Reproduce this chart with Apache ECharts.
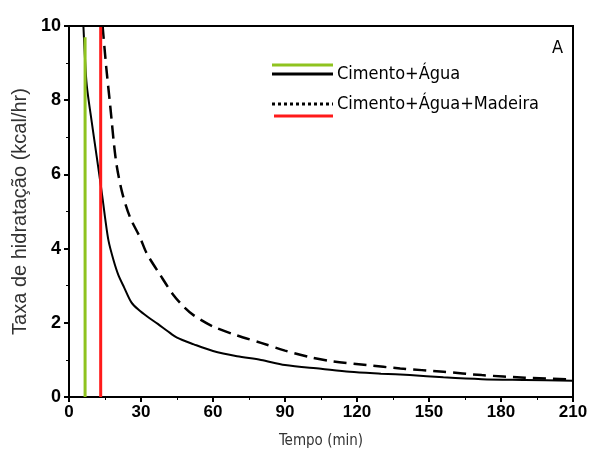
<!DOCTYPE html>
<html>
<head>
  <meta charset="utf-8">
  <title>Taxa de hidratação</title>
  <script src="https://cdn.jsdelivr.net/npm/echarts@6/dist/echarts.min.js"></script>
  <style>
    html, body { margin: 0; padding: 0; background: #fff; }
    #main { width: 591px; height: 460px; }
  </style>
</head>
<body>
  <div id="main"></div>
  <script type="text/javascript">
    // tempo (min) e taxa (kcal/hr)
    const cimentoTempo = [6.0, 6.6, 7.4, 9.5, 11.5, 12.6, 14, 15, 16.5, 18.5, 20.5, 23, 26, 29, 33, 37, 41, 45, 52, 60, 70, 80, 90, 105, 117, 130, 142, 156, 172, 190, 210]
    const cimentoTaxa = [10, 9.2, 8.4, 7.4, 6.5, 6.0, 5.35, 4.85, 4.2, 3.7, 3.3, 2.95, 2.55, 2.35, 2.15, 1.97, 1.78, 1.6, 1.42, 1.24, 1.1, 1.0, 0.86, 0.76, 0.68, 0.63, 0.59, 0.53, 0.48, 0.46, 0.44]
    const madeiraTempo = [14.0, 15.5, 17.1, 19.5, 22, 25.4, 29.6, 32.4, 37.9, 43.5, 48, 52, 60, 70, 80, 90, 100, 110, 124, 138, 156, 172, 190, 210]
    const madeiraTaxa = [10, 8.9, 7.9, 6.4, 5.55, 4.85, 4.3, 3.87, 3.3, 2.75, 2.42, 2.2, 1.9, 1.66, 1.46, 1.25, 1.08, 0.96, 0.86, 0.77, 0.68, 0.59, 0.52, 0.47]
    const linhaVerde = [[6.7, 0], [6.7, 9.7]]
    const linhaVermelha = [[13.2, 0], [13.2, 10]]
    const xTicks = [0, 30, 60, 90, 120, 150, 180, 210]

    let log = console.log.bind(console)

    let pares = (xs, ys) => xs.map((x, i) => [x, ys[i]])

    let legendGraphic = () => {
      let g = []
      let seg = (x1, y1, x2, y2, color, w, dash) => ({
        type: 'line',
        shape: { x1: x1, y1: y1, x2: x2, y2: y2 },
        style: { stroke: color, lineWidth: w, lineDash: dash || null },
        z: 10
      })
      // moldura: topo e lado direito
      g.push(seg(68, 26, 574, 26, '#000', 2))
      g.push(seg(573, 25, 573, 398, '#000', 2))
      // legenda
      g.push(seg(272, 65, 333, 65, '#8fc31f', 3))
      g.push(seg(272, 74, 333, 74, '#000', 3))
      g.push(seg(272, 104, 333, 104, '#000', 3, [3, 3]))
      g.push(seg(274, 116, 333, 116, '#ff1a1a', 3))
      let text = (x, y, t, size) => ({
        type: 'text',
        x: x, y: y,
        style: { text: t, fill: '#000', font: size + 'px "DejaVu Sans Condensed", "Liberation Sans Narrow", sans-serif', verticalAlign: 'middle' }
      })
      g.push(text(337, 74, 'Cimento+Água', 18))
      g.push(text(337, 104, 'Cimento+Água+Madeira', 18))
      g.push(text(552, 48, 'A', 18))
      return g
    }

    const OPTION = {
      animation: false,
      backgroundColor: '#fff',
      grid: { left: 69, right: 18, top: 26, bottom: 63, outerBoundsMode: 'none' },
      xAxis: {
        type: 'value',
        min: 0, max: 210, interval: 30,
        name: 'Tempo (min)',
        nameLocation: 'middle',
        nameGap: 37,
        nameTextStyle: { fontSize: 15, color: '#333', fontFamily: '"DejaVu Sans Condensed", sans-serif' },
        axisLine: { onZero: false, lineStyle: { color: '#000', width: 2 } },
        axisTick: { length: 5, lineStyle: { color: '#000', width: 2 } },
        minorTick: { show: true, splitNumber: 2, length: 3, lineStyle: { color: '#000' } },
        axisLabel: { color: '#000', fontSize: 17, fontWeight: 'bold', fontFamily: 'Liberation Sans, Arial, sans-serif', margin: 7 },
        splitLine: { show: false }
      },
      yAxis: {
        type: 'value',
        min: 0, max: 10, interval: 2,
        name: 'Taxa de hidratação (kcal/hr)',
        nameLocation: 'middle',
        nameGap: 38,
        nameTextStyle: { fontSize: 20, color: '#333', fontFamily: 'Liberation Sans, Arial, sans-serif' },
        axisLine: { onZero: false, lineStyle: { color: '#000', width: 2 } },
        axisTick: { length: 5, lineStyle: { color: '#000', width: 2 } },
        minorTick: { show: true, splitNumber: 2, length: 3, lineStyle: { color: '#000' } },
        axisLabel: { color: '#000', fontSize: 18, fontWeight: 'bold', fontFamily: 'Liberation Sans, Arial, sans-serif', margin: 8 },
        splitLine: { show: false }
      },
      series: [{
        name: 'Cimento+Água',
        type: 'line',
        data: pares(cimentoTempo, cimentoTaxa),
        showSymbol: false,
        smooth: 0.3,
        lineStyle: { color: '#000', width: 2 }
      }, {
        name: 'Cimento+Água+Madeira',
        type: 'line',
        data: pares(madeiraTempo, madeiraTaxa),
        showSymbol: false,
        smooth: 0.3,
        lineStyle: { color: '#000', width: 2.5, type: [13, 7] }
      }, {
        name: 'verde',
        type: 'line',
        data: linhaVerde,
        showSymbol: false,
        lineStyle: { color: '#8fc31f', width: 3 }
      }, {
        name: 'vermelha',
        type: 'line',
        data: linhaVermelha,
        showSymbol: false,
        lineStyle: { color: '#ff1a1a', width: 3 }
      }],
      graphic: legendGraphic()
    }

    let drawChart = (option) => {
      let element = document.querySelector('#main')
      let myChart = echarts.init(element, null, { renderer: 'canvas' })
      myChart.setOption(option)
    }

    let main = () => {
      log(xTicks)
      drawChart(OPTION)
    }
    main()
  </script>
</body>
</html>
